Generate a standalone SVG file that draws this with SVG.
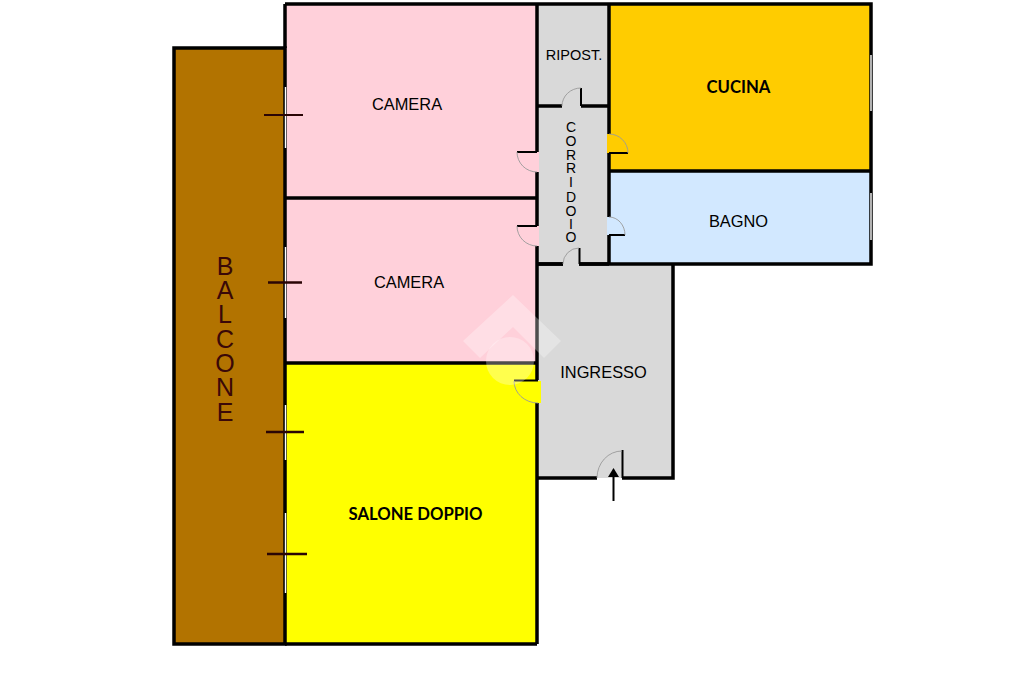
<svg xmlns="http://www.w3.org/2000/svg" width="1024" height="682" viewBox="0 0 1024 682">
<style>
.wall{stroke:#000;stroke-width:3.500;fill:none}
.thin{stroke:#000;stroke-width:2;fill:none}
.win{stroke:#fff;stroke-width:1.400;fill:none}
.stick{stroke:#2a0505;fill:none}
.arc{stroke:#9a9a9a;stroke-width:.9;fill:none}
.t{font-family:"Liberation Sans",Arial,sans-serif;font-size:16.400px;fill:#000;text-anchor:middle}
.b{font-family:Lato,"Open Sans",sans-serif;font-size:16.700px;font-weight:700;fill:#000;text-anchor:middle}
</style>
<rect width="1024" height="682" fill="#fff"/>
<g id="balcone"><rect x="174" y="48" width="111" height="596" fill="#b27300"/>
<text x="225 225 225 225 225 225 225" y="275 299 323 348 372 396 421" font-family="Liberation Sans,Arial,sans-serif" font-size="25" fill="#3a0808" text-anchor="middle">BALCONE</text></g>
<g id="camera1"><rect x="285" y="4" width="252" height="194" fill="#ffd0da"/><text class="t" x="407" y="110">CAMERA</text></g>
<g id="camera2"><rect x="285" y="198" width="252" height="165" fill="#ffd0da"/><text class="t" x="409" y="288">CAMERA</text></g>
<g id="salone"><rect x="285" y="363" width="252" height="281" fill="#ffff00"/><text class="b" x="415.500" y="520">SALONE DOPPIO</text></g>
<g id="ripost"><rect x="537" y="4" width="72" height="102" fill="#d9d9d9"/><text x="574" y="60" font-family="Liberation Sans,Arial,sans-serif" font-size="14.500" text-anchor="middle">RIPOST.</text></g>
<g id="corridoio"><rect x="537" y="106" width="72" height="158" fill="#d9d9d9"/>
<text x="571 571 571 571 571 571 571 571 571" y="132 146 160 173 187 202 216 229 242" font-family="Liberation Sans,Arial,sans-serif" font-size="14" text-anchor="middle">CORRIDOIO</text></g>
<g id="cucina"><rect x="609" y="4" width="262" height="167" fill="#ffcc00"/><text class="b" x="738.500" y="93">CUCINA</text></g>
<g id="bagno"><rect x="609" y="171" width="262" height="93" fill="#d2e8ff"/><text class="t" x="738.500" y="227">BAGNO</text></g>
<g id="ingresso"><rect x="537" y="264" width="136" height="214" fill="#d9d9d9"/><text class="t" x="603.500" y="378">INGRESSO</text></g>
<g id="walls">
<rect x="174" y="48" width="111" height="596" class="wall"/>
<path class="wall" d="M285 4H871V264H537M285 4V48M285 198H537M285 363H537M537 4V152M537 172V226M537 246V380M537 403V644M285 644H537"/>
<path class="wall" d="M609 4V134M609 153V217M609 235V264M609 171H871M537 106H562M581 106H609M537 264H563M579 264H609"/>
<path class="wall" d="M673 264V478H622M597 478H537"/>
</g>
<g id="windows">
<path class="win" d="M285.500 87V148M285.500 247V318M285.500 405V460M285.500 513V593M871 55V111M871 193V240"/>
<path class="stick" stroke-width="2" d="M264 115H303"/>
<path class="stick" stroke-width="2.600" d="M268 282.500H302"/>
<path class="stick" stroke-width="2.600" d="M266 432H304"/>
<path class="stick" stroke-width="2.600" d="M267 554H307"/>
</g>
<g id="doors">
<rect x="562" y="104" width="19" height="4" fill="#d9d9d9"/>
<rect x="563" y="262" width="16" height="4" fill="#d9d9d9"/>
<rect x="535" y="152" width="4" height="20" fill="#ffd0da"/>
<rect x="535" y="226" width="4" height="20" fill="#ffd0da"/>
<rect x="607" y="134" width="4" height="19" fill="#ffcc00"/>
<rect x="607" y="217" width="4" height="18" fill="#d2e8ff"/>
<rect x="525" y="381" width="16" height="22" fill="#ffff00"/>
<path class="thin" d="M581 88V106M517 152H537M517 226H537M579.500 248V264M609 153H628M609 235H625M514 380.500H538M622.500 450V478"/>
<path class="arc" d="M581 88A19 18 0 0 0 562 106M517 152A20 20 0 0 0 537 172M517 226A20 20 0 0 0 537 246M579 248A16 16 0 0 0 563 264M628 153A19 19 0 0 0 609 134M625 235A16 18 0 0 0 609 217M514 381A24 22 0 0 0 538 403M622 451A25 27 0 0 0 597 478"/>
<path d="M613.500 501V476" stroke="#000" stroke-width="2" fill="none"/><path d="M613.500 468L619 477H608Z" fill="#000"/>
</g>
<g id="watermark" fill="#fff" fill-opacity=".3">
<path d="M463 341L513 295L561 341L544 358L513 327L480 358Z"/>
<circle cx="510" cy="361" r="24"/>
</g>
</svg>
